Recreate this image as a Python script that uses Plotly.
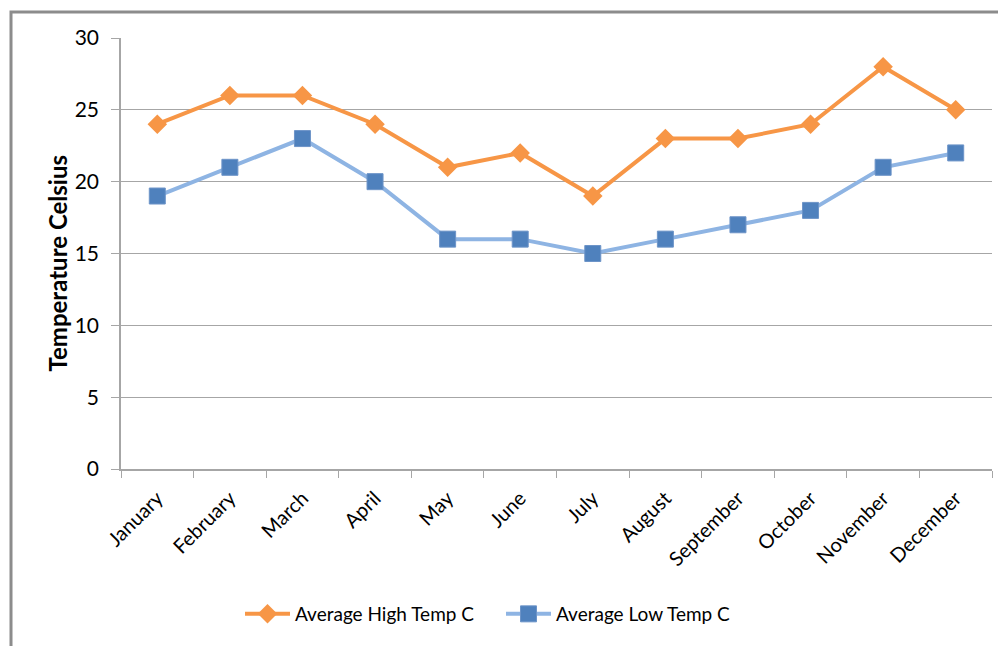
import plotly.graph_objects as go

months = ["January", "February", "March", "April", "May", "June", "July",
          "August", "September", "October", "November", "December"]
high_temp = [24, 26, 26, 24, 21, 22, 19, 23, 23, 24, 28, 25]
low_temp = [19, 21, 23, 20, 16, 16, 15, 16, 17, 18, 21, 22]
y_ticks = [0, 5, 10, 15, 20, 25, 30]

FONT = "Lato, 'Open Sans', sans-serif"

fig = go.Figure()
fig.add_trace(go.Scatter(
    x=months, y=high_temp, name="Average High Temp C", mode="lines+markers",
    line=dict(color="#F79646", width=4),
    marker=dict(symbol="diamond", size=15, color="#F79646"),
))
fig.add_trace(go.Scatter(
    x=months, y=low_temp, name="Average Low Temp C", mode="lines+markers",
    line=dict(color="#8EB4E3", width=4),
    marker=dict(symbol="square", size=16, color="#4F81BD",
                line=dict(color="#6D94C8", width=1)),
))

OFF = 8  # page body margin
W, H = 998, 638
L, R, T, B = 121 - OFF, 14, 38 - OFF, 177
pw, ph = W - L - R, H - T - B

def px_x(px):
    return (px - OFF - L) / pw

def px_y(py):
    return (OFF + H - B - py) / ph

fig.update_layout(
    width=W, height=H,
    margin=dict(l=L, r=R, t=T, b=B),
    paper_bgcolor="white", plot_bgcolor="white",
    font=dict(family=FONT, color="#000000"),
    showlegend=True,
    legend=dict(orientation="h", x=px_x(240), xanchor="left", y=px_y(614), yanchor="middle",
                font=dict(size=19, family=FONT), traceorder="normal",
                itemwidth=45, entrywidth=201, entrywidthmode="pixels"),
    xaxis=dict(
        type="category", tickangle=-45, tickfont=dict(size=20, family=FONT),
        showgrid=False, showline=True, linecolor="#A6A6A6", linewidth=1.5,
        ticks="outside", ticklen=7, tickcolor="#A6A6A6", tickson="boundaries",
        ticklabelstandoff=8,
        range=[-0.5, 11.5],
    ),
    yaxis=dict(
        range=[0, 30], tickvals=y_ticks, tickfont=dict(size=21, family=FONT),
        showgrid=True, gridcolor="#A6A6A6", gridwidth=1,
        showline=True, linecolor="#A6A6A6", linewidth=1.5,
        ticks="outside", ticklen=8, tickcolor="#A6A6A6",
        ticklabelstandoff=8,
        zeroline=False,
    ),
    annotations=[dict(text="<b>Temperature Celsius</b>", textangle=-90,
                      xref="paper", yref="paper", x=px_x(57), y=px_y(263.5),
                      xanchor="center", yanchor="middle", showarrow=False,
                      font=dict(size=24, family=FONT, color="#000000"))],
    shapes=[dict(type="rect", xref="paper", yref="paper",
                 x0=px_x(11), y0=px_y(660), x1=px_x(1020), y1=px_y(12),
                 line=dict(color="#8C8C8C", width=3), fillcolor="rgba(0,0,0,0)", layer="below")],
)

fig.write_html("out.html")
